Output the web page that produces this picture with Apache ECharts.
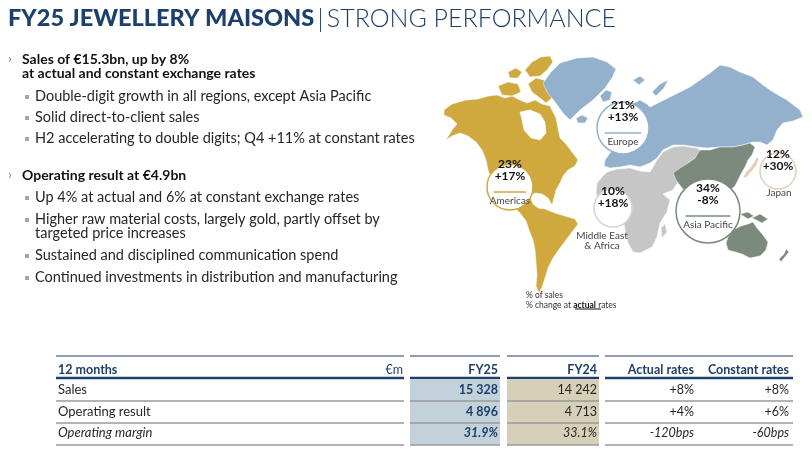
<!DOCTYPE html>
<html>
<head>
<meta charset="utf-8">
<script src="https://cdn.jsdelivr.net/npm/echarts@6/dist/echarts.min.js"></script>
<style>
  html, body { margin: 0; padding: 0; background: #fff; }
  #main { width: 812px; height: 463px; }
</style>
</head>
<body>
<div id="main"></div>
<script>
// data
var regionNames = ['Americas', 'Europe', 'Middle East\n& Africa', 'Asia Pacific', 'Japan'];
var salesShare = [23, 21, 10, 34, 12];
var changeActual = [17, 13, 18, -8, 30];

var rowLabels = ['Sales', 'Operating result', 'Operating margin'];
var fy25 = ['15 328', '4 896', '31.9%'];
var fy24 = ['14 242', '4 713', '33.1%'];
var actualRates = ['+8%', '+4%', '-120bps'];
var constantRates = ['+8%', '+6%', '-60bps'];
var colHeaders = ['12 months', '€m', 'FY25', 'FY24', 'Actual rates', 'Constant rates'];

var FONT = 'Lato';
var NAVY = '#1d3f6b';
var TXT = '#262626';
var GOLD = '#cfa93e', BLUE = '#93b1cd', GREY = '#c6c6c6', GREEN = '#7b8a7c', BEIGE = '#e6cdb9';

var myChart = echarts.init(document.getElementById('main'));
var g = [];

// title
g.push({
    type: 'text', left: 8, top: 6,
    style: {
        text: '{b|FY25 JEWELLERY MAISONS} {s||} {l|STRONG PERFORMANCE}',
        rich: {
            b: { fontFamily: FONT, fontWeight: 900, fontSize: 23.5, fill: NAVY },
            s: { fontFamily: FONT, fontWeight: 300, fontSize: 25, fill: NAVY },
            l: { fontFamily: FONT, fontWeight: 300, fontSize: 25, fill: NAVY }
        }
    }
});

// bullets
function chevron(y) {
    g.push({ type: 'text', left: 8, top: y - 9, style: { text: '›', fontFamily: FONT, fontSize: 14, fill: '#888' } });
}
function bold(y, t) {
    g.push({ type: 'text', left: 22, top: y - 8, style: { text: t, fontFamily: FONT, fontWeight: 'bold', fontSize: 14, fill: '#111' } });
}
function sub(y, lines) {
    g.push({ type: 'rect', shape: { x: 25, y: y - 2, width: 4, height: 4 }, style: { fill: '#a6a6a6' } });
    g.push({ type: 'text', left: 35, top: y - 8, style: { text: lines, fontFamily: FONT, fontSize: 14.5, fill: TXT, lineHeight: 14 } });
}
chevron(60); bold(60, 'Sales of €15.3bn, up by 8%'); bold(74, 'at actual and constant exchange rates');
sub(97, 'Double-digit growth in all regions, except Asia Pacific');
sub(118, 'Solid direct-to-client sales');
sub(139, 'H2 accelerating to double digits; Q4 +11% at constant rates');
chevron(176); bold(176, 'Operating result at €4.9bn');
sub(198, 'Up 4% at actual and 6% at constant exchange rates');
sub(220, 'Higher raw material costs, largely gold, partly offset by\ntargeted price increases');
sub(256, 'Sustained and disciplined communication spend');
sub(278, 'Continued investments in distribution and manufacturing');

// map shapes (decoration)
function land(pts, fill) {
    g.push({ type: 'polygon', shape: { points: pts }, style: { fill: fill, stroke: '#fff', lineWidth: 0.5 } });
}
land([[444,110],[452,104],[466,100],[478,99],[488,96],[497,95],[505,98],[512,96],[520,100],[527,103],[535,100],[542,104],
      [550,106],[553,112],[556,118],[558,128],[560,138],[566,144],[572,152],[578,160],[575,166],[568,170],[563,176],
      [560,183],[556,190],[554,198],[552,205],[548,198],[542,194],[535,193],[530,196],[533,204],[538,208],[545,209],
      [555,213],[565,216],[575,219],[578,224],[572,232],[566,240],[560,248],[553,258],[548,268],[545,278],[542,287],
      [539,293],[536,286],[537,275],[536,262],[535,250],[533,240],[529,230],[526,221],[520,213],[512,205],[503,197],
      [497,190],[492,181],[488,170],[486,160],[482,150],[476,142],[468,136],[460,133],[452,136],[446,140],[452,130],
      [457,124],[451,118],[444,115]], GOLD);
land([[520,112],[530,110],[540,114],[545,122],[546,133],[540,140],[531,138],[524,130],[522,120]], '#fff');
land([[498,86],[508,82],[518,84],[521,92],[512,96],[502,95]], GOLD);
land([[528,84],[536,78],[544,80],[550,88],[552,98],[546,103],[540,98],[532,92]], GOLD);
land([[525,70],[532,62],[541,57],[550,56],[553,62],[547,70],[540,76],[530,77]], GOLD);
land([[508,72],[516,68],[522,72],[518,78],[510,78]], GOLD);
land([[543,83],[551,72],[560,63],[577,58],[593,57],[607,62],[616,69],[612,78],[605,88],[593,100],[580,110],[570,120],[563,113],[555,102],[547,92]], BLUE);
land([[576,118],[582,115],[588,118],[585,123],[578,123]], BLUE);
land([[650,107],[660,102],[670,97],[680,92],[690,87],[700,80],[710,73],[720,65],[730,67],[740,72],[753,77],[763,85],
      [773,92],[787,100],[800,110],[803,117],[793,121],[783,123],[777,130],[773,140],[767,145],[760,142],[753,142],[743,145],
      [733,147],[720,147],[707,148],[697,147],[683,145],[673,145],[663,150],[657,158],[650,163],[640,167],[630,165],
      [620,167],[610,168],[604,166],[605,160],[610,153],[617,145],[620,137],[620,123],[623,113],[630,105],[640,100],[647,104]], BLUE);
land([[600,96],[606,90],[612,92],[610,100],[603,102]], BLUE);
land([[652,92],[660,84],[668,80],[664,88],[656,96]], BLUE);
land([[633,80],[640,76],[645,80],[639,85]], BLUE);
land([[602,177],[607,172],[617,169],[630,168],[640,171],[650,172],[653,167],[657,160],[663,152],[673,147],[683,146],[697,148],
      [702,151],[695,158],[688,163],[684,170],[680,178],[676,185],[673,190],[663,194],[670,200],[667,212],[660,223],
      [657,237],[652,247],[640,253],[633,252],[628,243],[625,230],[623,218],[617,212],[607,210],[600,203],[596,193],[597,183]], GREY);
land([[661,228],[665,224],[667,232],[662,238]], GREY);
land([[700,150],[710,150],[720,147],[733,147],[743,145],[750,143],[755,147],[752,155],[748,160],[745,167],[742,172],
      [738,180],[735,186],[728,192],[720,197],[712,200],[705,205],[700,200],[690,195],[682,188],[676,180],[673,173],
      [680,168],[688,163],[695,158]], GREEN);
land([[740,214],[748,212],[754,216],[748,219]], GREEN);
land([[752,218],[760,214],[768,219],[762,223]], GREEN);
land([[728,237],[733,230],[741,226],[748,224],[753,222],[757,228],[763,235],[768,242],[766,250],[760,256],[750,258],
      [742,254],[735,252],[728,250],[726,243]], GREEN);
land([[786,249],[789,252],[784,258],[781,262],[779,259],[784,254]], GREEN);
land([[743,177],[746,172],[750,168],[754,162],[757,157],[759,159],[756,166],[751,172],[746,178]], BEIGE);

// region bubbles
var bubbles = [
    { x: 510, y: 187, r: 23, c: GOLD },
    { x: 623, y: 128, r: 26, c: BLUE },
    { x: 613, y: 208, r: 19, c: '#d4d4d4', outside: true },
    { x: 708, y: 211, r: 32, c: GREEN },
    { x: 778, y: 171, r: 18, c: BEIGE, outside: true }
];
bubbles.forEach(function (b, i) {
    var pct = salesShare[i] + '%';
    var chg = (changeActual[i] > 0 ? '+' : '') + changeActual[i] + '%';
    g.push({ type: 'circle', shape: { cx: b.x, cy: b.y, r: b.r }, style: { fill: '#fff', stroke: b.c, lineWidth: 1.5 } });
    var top = b.outside ? b.y - 11 : b.y - 17;
    g.push({ type: 'text', x: b.x, y: top, style: { text: pct + '\n' + chg, fontFamily: FONT, fontWeight: 'bold', fontSize: 12, lineHeight: 12, fill: '#111', align: 'center', verticalAlign: 'middle' } });
    if (!b.outside) {
        g.push({ type: 'line', shape: { x1: b.x - b.r * 0.7, y1: b.y + 5, x2: b.x + b.r * 0.7, y2: b.y + 5 }, style: { stroke: b.c, lineWidth: 1.5 } });
        g.push({ type: 'text', x: b.x, y: b.y + 14, style: { text: regionNames[i], fontFamily: FONT, fontSize: 10, fill: '#444', align: 'center', verticalAlign: 'middle' } });
    }
});
g.push({ type: 'text', x: 602, y: 241, style: { text: regionNames[2], fontFamily: FONT, fontSize: 10, lineHeight: 10, fill: '#444', align: 'center', verticalAlign: 'middle' } });
g.push({ type: 'text', x: 779, y: 193, style: { text: regionNames[4], fontFamily: FONT, fontSize: 10, fill: '#444', align: 'center', verticalAlign: 'middle' } });
g.push({ type: 'text', left: 526, top: 290, style: { text: '% of sales\n% change at {u|actual} rates', fontFamily: FONT, fontSize: 8.5, lineHeight: 10, fill: '#333',
    rich: { u: { fontFamily: FONT, fontWeight: 'bold', fontSize: 8.5, fill: '#111' } } } });
g.push({ type: 'line', shape: { x1: 575, y1: 309, x2: 601, y2: 309 }, style: { stroke: '#111', lineWidth: 1 } });

// table
var cols = [[56, 404], [410, 500], [507, 599], [605, 793]];
cols.forEach(function (c) {
    g.push({ type: 'line', shape: { x1: c[0], y1: 356, x2: c[1], y2: 356 }, style: { stroke: NAVY, lineWidth: 1.2 } });
    g.push({ type: 'line', shape: { x1: c[0], y1: 378, x2: c[1], y2: 378 }, style: { stroke: NAVY, lineWidth: 2.5 } });
});
g.push({ type: 'rect', shape: { x: 410, y: 379, width: 90, height: 66 }, style: { fill: '#c3d1da' } });
g.push({ type: 'rect', shape: { x: 507, y: 379, width: 92, height: 66 }, style: { fill: '#d6d0b9' } });
var rowY = [390, 412, 433];
var lineY = [401, 423, 445];
rowY.forEach(function (y, i) {
    var it = i === 2 ? 'italic' : 'normal';
    cols.forEach(function (c) {
        g.push({ type: 'line', shape: { x1: c[0], y1: lineY[i], x2: c[1], y2: lineY[i] }, style: { stroke: '#9a9a9a', lineWidth: 1.5 } });
    });
    g.push({ type: 'text', x: 58, y: y, style: { text: rowLabels[i], fontFamily: FONT, fontStyle: it, fontSize: 13, fill: TXT, verticalAlign: 'middle' } });
    g.push({ type: 'text', x: 498, y: y, style: { text: fy25[i], fontFamily: FONT, fontStyle: it, fontWeight: 'bold', fontSize: 12.5, fill: NAVY, align: 'right', verticalAlign: 'middle' } });
    g.push({ type: 'text', x: 597, y: y, style: { text: fy24[i], fontFamily: FONT, fontStyle: it, fontSize: 12.5, fill: TXT, align: 'right', verticalAlign: 'middle' } });
    g.push({ type: 'text', x: 694, y: y, style: { text: actualRates[i], fontFamily: FONT, fontStyle: it, fontSize: 12.5, fill: TXT, align: 'right', verticalAlign: 'middle' } });
    g.push({ type: 'text', x: 789, y: y, style: { text: constantRates[i], fontFamily: FONT, fontStyle: it, fontSize: 12.5, fill: TXT, align: 'right', verticalAlign: 'middle' } });
});
var hx = [58, 403, 498, 597, 694, 789];
colHeaders.forEach(function (h, i) {
    g.push({ type: 'text', x: hx[i], y: 370, style: { text: h, fontFamily: FONT, fontWeight: i === 1 ? 'normal' : 'bold', fontSize: 12.5, fill: NAVY, align: i === 0 ? 'left' : 'right', verticalAlign: 'middle' } });
});

var option = { animation: false, graphic: { elements: g } };
myChart.setOption(option);
</script>
</body>
</html>
